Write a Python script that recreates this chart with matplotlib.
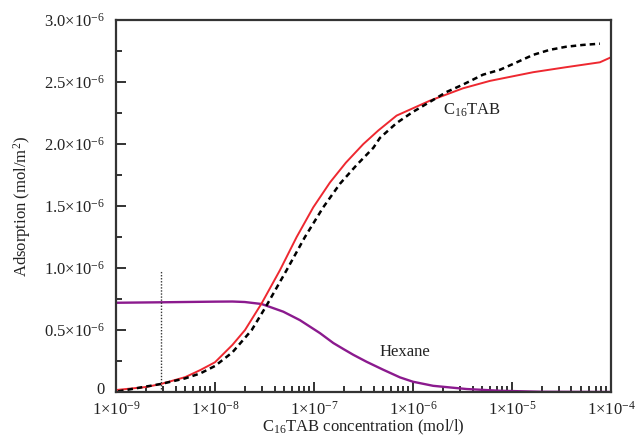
import numpy as np
import matplotlib
matplotlib.use("Agg")
import matplotlib.pyplot as plt
import matplotlib.transforms as mtransforms
from matplotlib.ticker import LogLocator, MultipleLocator

plt.rcParams['font.family'] = ['Liberation Serif', 'DejaVu Serif']
plt.rcParams['mathtext.fontset'] = 'custom'
plt.rcParams['mathtext.rm'] = 'Liberation Serif'
plt.rcParams['mathtext.it'] = 'Liberation Serif:italic'

# C16TAB model curve (red), adsorption in 1e-6 mol/m2
c16_x = [1e-9, 2e-9, 2.85e-9, 5e-9, 7.1e-9, 1e-8, 1.5e-8, 2.01e-8, 2.96e-8, 4.54e-8,
         6.68e-8, 9.84e-8, 1.45e-7, 2.1e-7, 3.15e-7, 4.47e-7, 6.84e-7, 1.48e-6, 3.2e-6, 6e-6,
         1.64e-5, 3.5e-5, 7.75e-5, 1e-4]
c16_y = [0.016, 0.04, 0.065, 0.12, 0.177, 0.24, 0.38, 0.50, 0.715, 0.984,
         1.25, 1.49, 1.69, 1.85, 2.0, 2.11, 2.23, 2.35, 2.45, 2.51,
         2.58, 2.62, 2.66, 2.70]

# dashed curve
dash_x = [1.05e-9, 2.85e-9, 5e-9, 7.1e-9, 1e-8, 1.5e-8, 2.35e-8, 3.33e-8, 5.3e-8, 8.1e-8,
          1.24e-7, 1.83e-7, 2.69e-7, 3.98e-7, 4.64e-7, 6.84e-7, 1e-6, 1.48e-6, 2.18e-6, 3.2e-6,
          5.1e-6, 7.6e-6, 1.12e-5, 1.64e-5, 2.4e-5, 3.5e-5, 5.2e-5, 7.75e-5]
dash_y = [0.005, 0.065, 0.11, 0.15, 0.21, 0.32, 0.50, 0.70, 0.984, 1.25,
          1.49, 1.68, 1.83, 1.97, 2.05, 2.17, 2.26, 2.34, 2.42, 2.48,
          2.56, 2.60, 2.66, 2.72, 2.76, 2.785, 2.80, 2.81]

# hexane curve (purple)
hex_x = [1e-9, 3e-9, 1e-8, 1.5e-8, 2e-8, 2.96e-8, 4.9e-8, 7.2e-8, 9e-8, 1.15e-7,
         1.57e-7, 2e-7, 2.5e-7, 3.4e-7, 5e-7, 7.4e-7, 1e-6, 1.6e-6, 2.5e-6, 3.5e-6,
         7.6e-6, 2e-5, 1e-4]
hex_y = [0.72, 0.724, 0.729, 0.73, 0.726, 0.71, 0.648, 0.58, 0.53, 0.475,
         0.395, 0.345, 0.30, 0.244, 0.18, 0.118, 0.083, 0.05, 0.035, 0.024,
         0.01, 0.002, 0.0]

marker_x = 2.85e-9
marker_top = 0.98

xtick_vals = [1e-9, 1e-8, 1e-7, 1e-6, 1e-5, 1e-4]
xtick_labels = [r'1$\times$10$^{-9}$', r'1$\times$10$^{-8}$', r'1$\times$10$^{-7}$',
                r'1$\times$10$^{-6}$', r'1$\times$10$^{-5}$', r'1$\times$10$^{-4}$']
ytick_vals = [0, 0.5, 1.0, 1.5, 2.0, 2.5, 3.0]
ytick_labels = ['0', r'0.5$\times$10$^{-6}$', r'1.0$\times$10$^{-6}$', r'1.5$\times$10$^{-6}$',
                r'2.0$\times$10$^{-6}$', r'2.5$\times$10$^{-6}$', r'3.0$\times$10$^{-6}$']

fig = plt.figure(figsize=(6.41, 4.38), dpi=100)
ax = fig.add_axes([0.181, 0.105, 0.772, 0.849])

ax.plot(hex_x, hex_y, color='#8b1a8e', lw=1.7)
ax.plot(c16_x, c16_y, color='#ee2830', lw=1.4)
ax.plot(dash_x, dash_y, color='black', lw=1.8, dashes=(2.2, 1.6))
ax.plot([marker_x, marker_x], [0, marker_top], color='#333333', lw=1.0, ls=(0, (1, 1.2)))

ax.set_xscale('log')
ax.set_xlim(1e-9, 1e-4)
ax.set_ylim(0, 3.0)

ax.set_xticks(xtick_vals)
ax.set_xticklabels(xtick_labels)
ax.xaxis.set_minor_locator(LogLocator(base=10, subs=np.arange(2, 10)))
ax.set_yticks(ytick_vals)
ax.set_yticklabels(ytick_labels)
ax.yaxis.set_minor_locator(MultipleLocator(0.25))

ax.tick_params(axis='both', which='both', direction='in', top=False, right=False,
               colors='#222222', labelsize=12, width=1.3)
ax.tick_params(axis='both', which='major', length=7)
ax.tick_params(axis='both', which='minor', length=4)
ax.tick_params(axis='y', which='major', pad=8)
ax.tick_params(axis='x', which='major', pad=6)
ax.tick_params(axis='x', which='minor', labelbottom=False)

# nudge the "0" label up a little so it clears the first x label
zero_lbl = ax.get_yticklabels()[0]
zero_lbl.set_transform(zero_lbl.get_transform() +
                       mtransforms.ScaledTranslation(0, 3 / 72, fig.dpi_scale_trans))

for s in ax.spines.values():
    s.set_linewidth(1.6)
    s.set_color('#333333')

ax.text(2.0e-6, 2.27, r'C$_{16}$TAB', fontsize=12, va='center', ha='left', color='#222222')
ax.text(4.6e-7, 0.32, 'Hexane', fontsize=12, va='center', ha='left', color='#222222')

ax.set_xlabel(r'C$_{16}$TAB concentration (mol/l)', fontsize=12, color='#222222', labelpad=0)
ax.set_ylabel(r'Adsorption (mol/m$^2$)', fontsize=12, color='#222222', labelpad=8)

fig.savefig('out.png', dpi=100)
